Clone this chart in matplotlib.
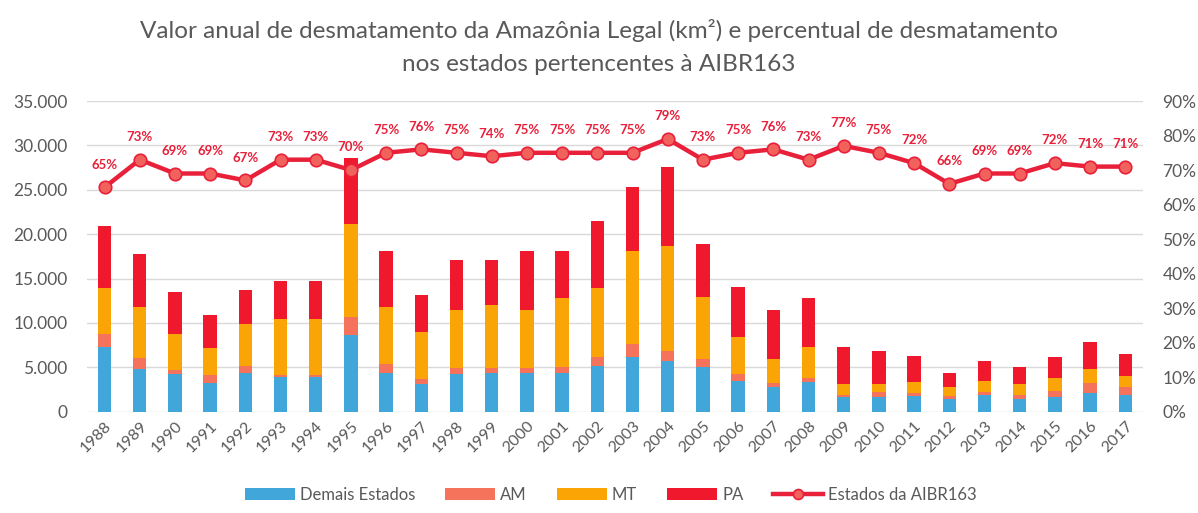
import matplotlib
matplotlib.use("Agg")
import matplotlib.pyplot as plt
from matplotlib.ticker import FuncFormatter, MultipleLocator

plt.rcParams['font.family'] = ['Lato', 'DejaVu Sans']

years = [str(y) for y in range(1988, 2018)]
demais = [7300, 4770, 4300, 3270, 4390, 3940, 3940, 8640, 4390, 3120,
          4240, 4390, 4390, 4320, 5180, 6120, 5750, 4990, 3450, 2740,
          3300, 1610, 1610, 1760, 1390, 1880, 1390, 1610, 2140, 1880]
am = [1450, 1240, 400, 860, 750, 190, 190, 2060, 980, 520,
      640, 490, 490, 750, 1010, 1460, 1120, 900, 750, 450,
      530, 270, 640, 300, 380, 380, 490, 750, 1050, 860]
mt = [5150, 5820, 4100, 3000, 4770, 6350, 6350, 10440, 6460, 5300,
      6570, 7130, 6570, 7700, 7700, 10510, 11830, 7060, 4200, 2740,
      3490, 1240, 860, 1240, 980, 1200, 1240, 1460, 1610, 1310]
pa = [7050, 5930, 4730, 3760, 3830, 4200, 4200, 7400, 6270, 4200,
      5670, 5110, 6610, 5300, 7590, 7210, 8900, 5900, 5670, 5520,
      5450, 4130, 3760, 3000, 1650, 2290, 1880, 2290, 3000, 2440]
pct = [65, 73, 69, 69, 67, 73, 73, 70, 75, 76, 75, 74, 75, 75, 75,
       75, 79, 73, 75, 76, 73, 77, 75, 72, 66, 69, 69, 72, 71, 71]

c_demais = "#41a6da"
c_am = "#f4735a"
c_mt = "#fba405"
c_pa = "#f0182d"
c_line = "#e8203a"
grey = "#595959"

fig = plt.figure(figsize=(11.98, 5.13), dpi=100)
ax = fig.add_axes([0.0726, 0.1975, 0.8814, 0.6056])
ax2 = ax.twinx()

x = list(range(len(years)))
w = 0.38
b1 = demais
b2 = [a + b for a, b in zip(b1, am)]
b3 = [a + b for a, b in zip(b2, mt)]
ax.bar(x, demais, w, color=c_demais, label="Demais Estados", zorder=2)
ax.bar(x, am, w, bottom=b1, color=c_am, label="AM", zorder=2)
ax.bar(x, mt, w, bottom=b2, color=c_mt, label="MT", zorder=2)
ax.bar(x, pa, w, bottom=b3, color=c_pa, label="PA", zorder=2)

pv = [p / 100 for p in pct]
ln, = ax2.plot(x, pv, color=c_line, lw=3.2, marker="o", ms=9,
               mfc="#f2625c", mec=c_line, mew=1.2, label="Estados da AIBR163")
for i, p in enumerate(pct):
    ax2.annotate(f"{p}%", (i, pv[i]), xytext=(0, 12), textcoords="offset points",
                 ha="center", va="bottom", color=c_line, fontsize=9.5, fontweight="bold")

ax.set_xlim(-0.5, len(years) - 0.5)
ax.set_ylim(0, 35000)
ax2.set_ylim(0, 0.9)
ax.yaxis.set_major_locator(MultipleLocator(5000))
ax2.yaxis.set_major_locator(MultipleLocator(0.1))
ax.yaxis.set_major_formatter(FuncFormatter(lambda v, _: f"{int(v):,}".replace(",", ".")))
ax2.yaxis.set_major_formatter(FuncFormatter(lambda v, _: f"{round(v * 100)}%"))
ax.grid(axis="y", color="#d9d9d9", lw=1, zorder=0)
ax.set_axisbelow(True)

for a in (ax, ax2):
    for s in a.spines.values():
        s.set_visible(False)
    a.tick_params(length=0, colors=grey, labelsize=12.5)
ax.tick_params(axis="y", pad=14)
ax2.tick_params(axis="y", pad=14)
ax.set_xticks(x)
ax.set_xticklabels(years, rotation=45, ha="right", rotation_mode="anchor", fontsize=11.5)
ax.tick_params(axis="x", pad=5)

fig.suptitle("Valor anual de desmatamento da Amazônia Legal (km²) e percentual de desmatamento\n"
             "nos estados pertencentes à AIBR163", y=0.962, fontsize=17.5, color=grey,
             linespacing=1.7)

h, l = ax.get_legend_handles_labels()
fig.legend(h + [ln], l + [ln.get_label()], loc="lower center", bbox_to_anchor=(0.51, -0.01),
           ncol=5, frameon=False, fontsize=12, labelcolor=grey, handlelength=3.0,
           handleheight=0.7, columnspacing=1.8, handletextpad=0.3, markerscale=0.8)

fig.savefig("out.png", dpi=100)
